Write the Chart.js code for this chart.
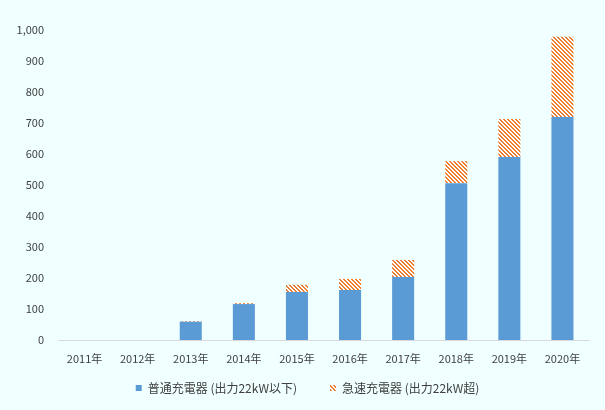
<!DOCTYPE html>
<html><head><meta charset="utf-8">
<script src="https://cdn.jsdelivr.net/npm/chart.js@4"></script>
<style>html,body{margin:0;padding:0;background:#F0FFFF;}canvas{display:block;}</style>
</head><body>
<canvas id="c" width="605" height="410"></canvas>
<script>
const categories = ["2011年","2012年","2013年","2014年","2015年","2016年","2017年","2018年","2019年","2020年"];
const normalChargers = [0,0,59,116,155,161,203,506,590,719];
const fastChargers = [0,0,2,3,23,36,55,71,123,259];
const seriesNames = ["普通充電器 (出力22kW以下)","急速充電器 (出力22kW超)"];

function hatch(){
  const p = document.createElement('canvas'); p.width = 8; p.height = 8;
  const g = p.getContext('2d');
  g.fillStyle = '#FFFFFF'; g.fillRect(0,0,8,8);
  g.fillStyle = '#ED7D31';
  for (let y=0;y<8;y++) for (let x=0;x<8;x++) { if ((((x - y) % 4) + 4) % 4 < 2) g.fillRect(x,y,1,1); }
  return g.createPattern(p,'repeat');
}
const ctx = document.getElementById('c').getContext('2d');
const bg = {id:'bg', beforeDraw(c){const g=c.ctx; g.save(); g.fillStyle='#F0FFFF'; g.fillRect(0,0,c.width,c.height); g.restore();}};
const LEG_PAD = 33, LEG_H = 42, LEG_TOP = 14, LEG_DX = 13;
const legendFix = {id:'legendFix', beforeUpdate(c){
  const lg = c.legend;
  if (lg && !lg._fixed){
    const f = lg.fit.bind(lg), d = lg.draw.bind(lg);
    lg.fit = function(){ f(); this.height = LEG_H; this.bottom = this.top + LEG_H; };
    lg.draw = function(){
      const t = this.top, l = this.left, r = this.right;
      this.top = t + LEG_TOP - LEG_PAD; this.left = l + LEG_DX; this.right = r + LEG_DX;
      d();
      this.top = t; this.left = l; this.right = r;
    };
    lg._fixed = true;
  }
}};
const font = {family:'"Noto Sans CJK JP", "Noto Sans", sans-serif', size:11};
new Chart(ctx, {
  type:'bar',
  data:{labels:categories, datasets:[
    {label:seriesNames[0], data:normalChargers, backgroundColor:'#5B9BD5', borderWidth:0, categoryPercentage:1, barPercentage:0.415},
    {label:seriesNames[1], data:fastChargers, backgroundColor:hatch(), borderWidth:0, categoryPercentage:1, barPercentage:0.415}
  ]},
  options:{
    responsive:false, animation:false, devicePixelRatio:1,
    layout:{padding:{top:30,right:16,left:0,bottom:0}},
    plugins:{
      legend:{position:'bottom', labels:{boxWidth:6, boxHeight:6, padding:LEG_PAD, color:'#404040', font:{family:font.family,size:12}}},
      tooltip:{enabled:false}
    },
    scales:{
      x:{stacked:true, grid:{display:false, drawTicks:false}, border:{display:true,color:'#D9D9D9',width:1},
         ticks:{color:'#404040', font:font, padding:12, maxRotation:0},
         afterFit:s=>{s.height=28;}},
      y:{stacked:true, min:0, max:1000, grid:{display:false, drawTicks:false}, border:{display:false},
         ticks:{stepSize:100, color:'#404040', font:font, padding:14, callback:v=>v.toLocaleString('en-US')},
         afterFit:s=>{s.width=58;}}
    }
  },
  plugins:[bg, legendFix]
});
</script>
</body></html>
